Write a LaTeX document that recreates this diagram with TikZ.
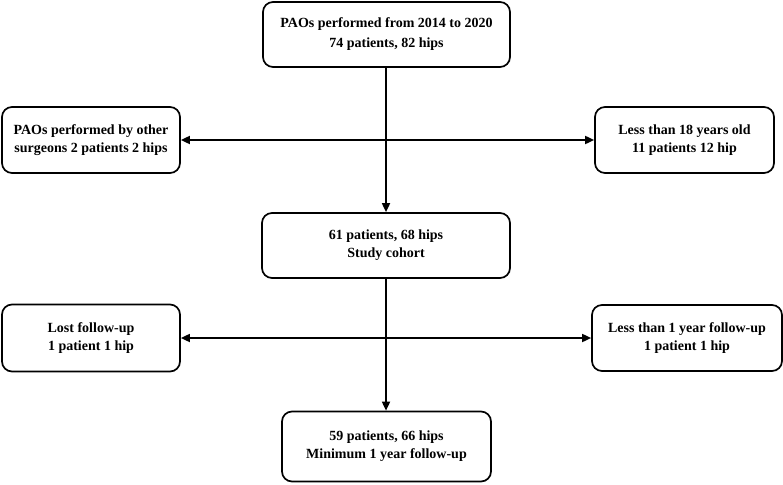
\documentclass[tikz,border=0pt]{standalone}
\usepackage{fontspec}
\setmainfont{Liberation Serif}
\usetikzlibrary{arrows.meta}
\begin{document}
\begin{tikzpicture}[x=1pt,y=-1pt,
  box/.style={draw,line width=1.7pt,rounded corners=10pt,align=center,
    font=\fontsize{14}{18}\selectfont\bfseries,inner sep=2pt},
  bigbox/.style={box,font=\fontsize{14}{20}\selectfont\bfseries},
  arr/.style={line width=1.7pt,-{Triangle[length=9pt,width=8pt]}}]
\useasboundingbox (0,0) rectangle (783,484);
\node[bigbox,minimum width=247pt,minimum height=65pt] (top) at (386.5,34.5)
  {PAOs performed from 2014 to 2020\\74 patients, 82 hips};
\node[box,minimum width=178pt,minimum height=66pt] (l1) at (91,140)
  {PAOs performed by other\\surgeons 2 patients 2 hips};
\node[box,minimum width=179pt,minimum height=66pt] (r1) at (684.5,140)
  {Less than 18 years old\\11 patients 12 hip};
\node[box,minimum width=248pt,minimum height=65pt] (mid) at (386,245.5)
  {61 patients, 68 hips\\Study cohort};
\node[box,minimum width=178pt,minimum height=67pt] (l2) at (91,338)
  {Lost follow-up\\1 patient 1 hip};
\node[box,minimum width=190pt,minimum height=66pt] (r2) at (687,338)
  {Less than 1 year follow-up\\1 patient 1 hip};
\node[box,minimum width=209pt,minimum height=70pt] (bot) at (386.5,446.5)
  {59 patients, 66 hips\\Minimum 1 year follow-up};
\coordinate (j1) at (386,140);
\coordinate (j2) at (386,338);
\draw[arr] (top.south -| j1) -- (mid.north -| j1);
\draw[arr] (j1) -- (l1.east);
\draw[arr] (j1) -- (r1.west);
\draw[arr] (mid.south -| j2) -- (bot.north -| j2);
\draw[arr] (j2) -- (l2.east);
\draw[arr] (j2) -- (r2.west);
\end{tikzpicture}
\end{document}
